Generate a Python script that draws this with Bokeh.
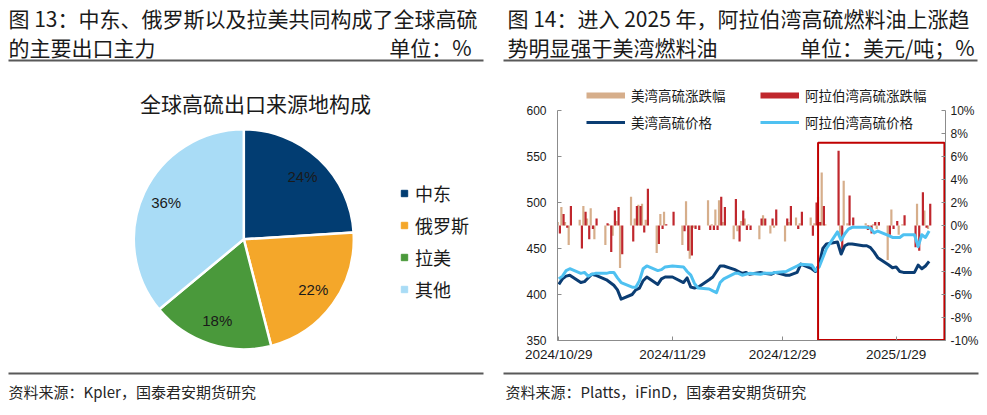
import numpy as np
import pandas as pd
from bokeh.plotting import figure
from bokeh.layouts import row, column
from bokeh.models import (Range1d, LinearAxis, FixedTicker, Legend, LegendItem,
                          Label, BoxAnnotation, ColumnDataSource)
from bokeh.transform import dodge
from bokeh.core.properties import value
from bokeh.embed import file_html
from bokeh.resources import INLINE

# ---------------- texts ----------------
title13_l1 = "图 13：中东、俄罗斯以及拉美共同构成了全球高硫"
title13_l2 = "的主要出口主力"
unit13 = "单位：%"
title14_l1 = "图 14：进入 2025 年，阿拉伯湾高硫燃料油上涨趋"
title14_l2 = "势明显强于美湾燃料油"
unit14 = "单位：美元/吨；%"
source13 = "资料来源：Kpler，国泰君安期货研究"
source14 = "资料来源：Platts，iFinD，国泰君安期货研究"

# ---------------- data: left panel (pie) ----------------
pie_title = "全球高硫出口来源地构成"
pie_regions = ["中东", "俄罗斯", "拉美", "其他"]
pie_shares = [24, 22, 18, 36]

# ---------------- data: right panel ----------------
series_names = ["美湾高硫涨跌幅", "阿拉伯湾高硫涨跌幅", "美湾高硫价格", "阿拉伯湾高硫价格"]

dates = [
    "2024-10-29", "2024-10-30", "2024-10-31", "2024-11-01",
    "2024-11-04", "2024-11-05", "2024-11-06", "2024-11-07", "2024-11-08",
    "2024-11-11", "2024-11-12", "2024-11-13", "2024-11-14", "2024-11-15",
    "2024-11-18", "2024-11-19", "2024-11-20", "2024-11-21", "2024-11-22",
    "2024-11-25", "2024-11-26", "2024-11-27", "2024-11-29",
    "2024-12-02", "2024-12-03", "2024-12-04", "2024-12-05", "2024-12-06",
    "2024-12-09", "2024-12-10", "2024-12-11", "2024-12-12", "2024-12-13",
    "2024-12-16", "2024-12-17", "2024-12-18", "2024-12-19", "2024-12-20",
    "2024-12-23", "2024-12-24", "2024-12-26", "2024-12-27",
    "2024-12-30", "2024-12-31", "2025-01-02", "2025-01-03",
    "2025-01-06", "2025-01-07", "2025-01-08", "2025-01-09", "2025-01-10",
    "2025-01-13", "2025-01-14", "2025-01-15", "2025-01-16", "2025-01-17",
    "2025-01-20", "2025-01-21", "2025-01-22", "2025-01-23", "2025-01-24",
    "2025-01-27", "2025-01-28", "2025-01-29", "2025-01-30", "2025-01-31",
    "2025-02-03", "2025-02-04", "2025-02-05", "2025-02-06", "2025-02-07",
]

us_change = [
    0.3, 1.6, 0.3, -1.7,
    0.5, 1.7, 0.6, 1.5, -1.2,
    -1.7, 0.1, -0.9, 0.4, -3.7,
    2.5, 0.6, 1.8, 1.9, 0.5,
    -2.4, 1.0, 1.2, 0.0,
    -1.7, 2.1, -2.9, -0.2, 0.0,
    2.2, 0.1, 1.4, 2.2, 0.3,
    -1.2, -0.5, 0.4, 0.6, 0.1,
    -1.2, 0.9, -0.7, -0.2,
    -1.4, 0.3, 0.7, 0.2,
    0.7, 0.2, 2.5, 4.6, 0.1,
    0.0, -0.8, 3.9, 0.2, 0.0,
    0.0, 0.2, -0.3, 0.1, -0.3,
    -3.0, 1.4, 0.0, -0.8, 0.1,
    0.0, 1.9, 0.0, 1.3, -0.3,
]

ag_change = [
    -0.7, 1.0, -0.2, 1.7,
    -2.0, 1.2, -1.2, -0.3, 0.6,
    0.2, -2.3, 1.3, 1.6, -2.5,
    -1.4, 1.7, 1.7, -0.6, 3.2,
    -1.6, -0.3, 0.1, 1.2,
    -0.5, -2.2, -2.6, -0.3, -0.4,
    -0.4, -0.4, -0.4, 2.5, 1.6,
    2.3, -1.4, 1.3, -0.4, -0.4,
    0.6, 0.6, 0.6, 1.4,
    0.6, 1.7, -0.3, 1.2,
    -0.9, 2.0, 0.3, 1.7, 0.0,
    6.5, -2.2, 0.0, 2.6, 0.7,
    0.0, -0.4, -0.7, 0.3, 0.3,
    -0.8, -0.3, 0.4, 0.0, 0.9,
    -1.9, -2.2, 2.9, -0.2, 1.9,
]

us_price = [
    411, 417, 420, 421,
    413, 414, 418, 422, 421,
    416, 413, 410, 405, 395,
    400, 405, 407, 415, 419,
    411, 417, 419, 419,
    413, 418, 408, 407, 408,
    416, 419, 425, 431, 431,
    427, 425, 423, 424, 422,
    424, 423, 422, 424,
    421, 421, 424, 433,
    428, 425, 432, 450, 455,
    457, 444, 453, 455, 455,
    453, 453, 451, 446, 440,
    432, 429, 430, 425, 424,
    424, 432, 428, 431, 436,
]

ag_price = [
    417, 420, 426, 428,
    423, 424, 420, 422, 423,
    423, 424, 424, 418, 413,
    408, 408, 415, 428, 431,
    426, 427, 430, 431,
    430, 425, 421, 412, 407,
    406, 404, 402, 413, 417,
    423, 423, 421, 422, 423,
    422, 423, 423, 424,
    425, 427, 431, 433,
    432, 426, 430, 440, 450,
    468, 459, 466, 471, 473,
    473, 473, 472, 467, 469,
    464, 462, 462, 462, 465,
    465, 452, 465, 462, 469,
]

x_tick_dates = ["2024-10-29", "2024-11-29", "2024-12-29", "2025-01-29"]
x_tick_labels = ["2024/10/29", "2024/11/29", "2024/12/29", "2025/1/29"]
price_ticks = [350, 400, 450, 500, 550, 600]
pct_ticks = [-10, -8, -6, -4, -2, 0, 2, 4, 6, 8, 10]
highlight_dates = ["2025-01-07 17:00", "2025-02-11 04:00"]
highlight_prices = [350.5, 565]

# ---------------- styles ----------------
CJK = "Noto Sans CJK SC"
LAT = "Liberation Sans"
INK = "#1a1a1a"
RULE = "#595959"
AXIS = "#8c8c8c"
PIE_COLORS = ["#023D72", "#F4A72A", "#4A993B", "#A9DCF6"]
TAN, RED, NAVY, SKY = "#D6AE8B", "#C0272D", "#0B3D73", "#4FC1F1"

PAGE_W = 986
HDR_H, MID_H, FTR_H = 70, 295, 49
P1_W = 502
P2_W = PAGE_W - P1_W


def bare(width, height):
    p = figure(width=width, height=height, x_range=Range1d(0, width), y_range=Range1d(0, height),
               output_backend="svg", toolbar_location=None, min_border=0,
               x_axis_location=None, y_axis_location=None, outline_line_color=None)
    p.grid.visible = False
    return p


def text(p, x, y, s, size, align="left", font=CJK, color=INK):
    p.add_layout(Label(x=x, y=y, text=s, text_font=font, text_font_size=size,
                       text_color=color, text_align=align, text_baseline="middle"))


def rule(p, x0, x1, y, w=2.0):
    p.add_layout(BoxAnnotation(left=x0, right=x1, bottom=y - w / 2, top=y + w / 2,
                               fill_color=RULE, fill_alpha=1, line_color=None))


# ---------------- header (y = 70 - image_y) ----------------
hdr = bare(PAGE_W, HDR_H)
text(hdr, 8, 53, title13_l1, "21px")
text(hdr, 8, 24, title13_l2, "21px")
text(hdr, 471, 24, unit13, "21px", align="right")
rule(hdr, 8, 483, 10)
text(hdr, 507, 53, title14_l1, "21px")
text(hdr, 507, 24, title14_l2, "21px")
text(hdr, 974, 24, unit14, "21px", align="right")
rule(hdr, 503, 977, 10)

# ---------------- footer (y = 414 - image_y) ----------------
ftr = bare(PAGE_W, FTR_H)
rule(ftr, 8, 483, 41)
rule(ftr, 503, 978, 41)
text(ftr, 8, 23, source13, "15px", color="#262626")
text(ftr, 505, 23, source14, "15px", color="#262626")

# ---------------- left: pie (y = 365 - image_y) ----------------
p1 = bare(P1_W, MID_H)
p1.frame_align = False
cx, cy, R = 243.3, 126.2, 110.0
shares = np.array(pie_shares, dtype=float)
frac = shares / shares.sum()
cum_end = np.cumsum(frac) * 2 * np.pi
cum_start = cum_end - frac * 2 * np.pi
mid = np.pi / 2 - (cum_start + cum_end) / 2
pie_src = ColumnDataSource(dict(
    region=pie_regions,
    start=np.pi / 2 - cum_start,
    end=np.pi / 2 - cum_end,
    color=PIE_COLORS,
    lx=cx + 0.78 * R * np.cos(mid),
    ly=cy + 0.78 * R * np.sin(mid),
    label=[f"{s}%" for s in pie_shares],
))
p1.wedge(x=cx, y=cy, radius=R, start_angle="start", end_angle="end", direction="clock",
         fill_color="color", line_color="white", line_width=2.5, source=pie_src)
p1.text(x="lx", y="ly", text="label", source=pie_src, text_align="center",
        text_baseline="middle", text_font=value(LAT), text_font_size="15px", text_color=INK)
text(p1, 255, 263, pie_title, "21px", align="center")

pie_items = []
for reg, col in zip(pie_regions, PIE_COLORS):
    r = p1.scatter(x=[np.nan], y=[np.nan], marker="square", fill_color=col, line_color=col, size=7)
    pie_items.append(LegendItem(label=reg, renderers=[r]))
leg1 = Legend(items=pie_items, location=(396, 63), orientation="vertical",
              glyph_width=16, glyph_height=26, label_height=26, label_standoff=3,
              spacing=6, padding=0, margin=0, border_line_color=None,
              background_fill_alpha=0, label_text_font=CJK, label_text_font_size="18px",
              label_text_color=INK)
p1.add_layout(leg1, "center")

# ---------------- right: price / change chart ----------------
base = pd.Timestamp(dates[0])
one_day = pd.Timedelta(days=1)
day = ((pd.to_datetime(dates) - base) / one_day).to_numpy()
tick_days = [int(v) for v in ((pd.to_datetime(x_tick_dates) - base) / one_day)]
hl_days = ((pd.to_datetime(highlight_dates) - base) / one_day).to_numpy()

FRAME_W, FRAME_H = 388, 258
BL, BT, BB = 55, 12, 25
BR = P2_W - BL - FRAME_W
px_per_day = 110 / 30
x0 = -1.3 / px_per_day
x1 = x0 + FRAME_W / px_per_day
y_top = 350 + FRAME_H * 250 / 230
p2 = figure(width=P2_W, height=MID_H, x_range=Range1d(x0, x1), y_range=Range1d(350, y_top),
            output_backend="svg", toolbar_location=None,
            min_border_left=BL, min_border_right=BR, min_border_top=BT, min_border_bottom=BB,
            outline_line_color=None)
p2.frame_align = False
p2.extra_y_ranges = {"pct": Range1d(-10, -10 + (y_top - 350) / 12.5)}
p2.grid.visible = False

src = ColumnDataSource(dict(day=day, us_change=us_change, ag_change=ag_change,
                            us_price=us_price, ag_price=ag_price))
p2.vbar(x=dodge("day", -0.3, range=p2.x_range), top="us_change", bottom=0, width=0.6,
        y_range_name="pct", fill_color=TAN, line_color=None, source=src)
p2.vbar(x=dodge("day", 0.3, range=p2.x_range), top="ag_change", bottom=0, width=0.6,
        y_range_name="pct", fill_color=RED, line_color=None, source=src)
r_us = p2.line("day", "us_price", source=src, line_color=NAVY, line_width=3, line_join="round")
r_ag = p2.line("day", "ag_price", source=src, line_color=SKY, line_width=3, line_join="round")

p2.quad(left=hl_days[0], right=hl_days[1], bottom=highlight_prices[0], top=highlight_prices[1],
        fill_alpha=0, line_color="#C00000", line_width=2)

# axes
yl = p2.yaxis[0]
yl.ticker = FixedTicker(ticks=price_ticks)
yl.bounds = (price_ticks[0], price_ticks[-1])
yr = LinearAxis(y_range_name="pct", ticker=FixedTicker(ticks=pct_ticks),
                major_label_overrides={t: f"{t}%" for t in pct_ticks},
                bounds=(pct_ticks[0], pct_ticks[-1]))
p2.add_layout(yr, "right")
xa = p2.xaxis[0]
xa.ticker = FixedTicker(ticks=tick_days)
xa.major_label_overrides = {d: lab for d, lab in zip(tick_days, x_tick_labels)}

for ax in [yl, yr, xa]:
    ax.axis_line_color = AXIS
    ax.major_tick_line_color = AXIS
    ax.major_tick_in = 4
    ax.major_tick_out = 0
    ax.minor_tick_line_color = None
    ax.major_label_text_font = LAT
    ax.major_label_text_color = INK
yl.major_label_text_font_size = "12px"
yr.major_label_text_font_size = "12px"
xa.major_label_text_font_size = "13.5px"
yl.major_label_standoff = 11
yr.major_label_standoff = 5
xa.major_label_standoff = 6

# legend (two rows)
leg_tan = p2.line(x=[np.nan], y=[np.nan], line_color=TAN, line_width=6)
leg_red = p2.line(x=[np.nan], y=[np.nan], line_color=RED, line_width=6)
common = dict(orientation="horizontal", glyph_width=39, glyph_height=20, label_height=20,
              label_width=125, label_standoff=6, spacing=4, padding=0, margin=0,
              border_line_color=None, background_fill_alpha=0, label_text_font=CJK,
              label_text_font_size="13.5px", label_text_color=INK)
legA = Legend(items=[LegendItem(label=series_names[0], renderers=[leg_tan]),
                     LegendItem(label=series_names[1], renderers=[leg_red])],
              location=(29, 235), **common)
legB = Legend(items=[LegendItem(label=series_names[2], renderers=[r_us]),
                     LegendItem(label=series_names[3], renderers=[r_ag])],
              location=(29, 208), **common)
p2.add_layout(legA, "center")
p2.add_layout(legB, "center")

layout = column(hdr, row(p1, p2), ftr)
open("out.html", "w").write(file_html(layout, INLINE))
